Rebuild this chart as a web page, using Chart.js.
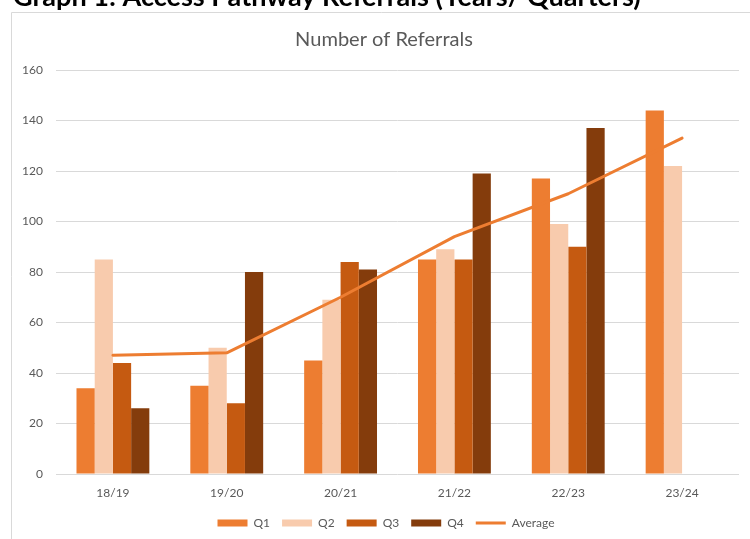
<!DOCTYPE html>
<html>
<head>
<meta charset="utf-8">
<script src="https://cdn.jsdelivr.net/npm/chart.js@4.4.1/dist/chart.umd.min.js"></script>
<style>
  html, body { margin: 0; padding: 0; background: #fff; overflow: hidden; }
  #wrap { position: relative; width: 750px; height: 539px; }
  canvas { display: block; }
</style>
</head>
<body>
<div id="wrap"><canvas id="c" width="750" height="539"></canvas></div>
<script>
// ---- data ----
const categories = ['18/19', '19/20', '20/21', '21/22', '22/23', '23/24'];
const q1 = [34, 35, 45, 85, 117, 144];
const q2 = [85, 50, 69, 89, 99, 122];
const q3 = [44, 28, 84, 85, 90, null];
const q4 = [26, 80, 81, 119, 137, null];
const average = [47, 48, 70, 94, 111, 133];
const yTicks = [0, 20, 40, 60, 80, 100, 120, 140, 160];
const pageTitle = 'Graph 1: Access Pathway Referrals (Years/ Quarters)';
const chartTitle = 'Number of Referrals';

const FONT = 'Lato';
const GREY_TEXT = '#595959';
const GRID = '#D9D9D9';

// fit font sizes to reference text widths
const mctx = document.createElement('canvas').getContext('2d');
function fitSize(text, weight, targetW) {
  mctx.font = weight + ' 100px ' + FONT;
  return 100 * targetW / mctx.measureText(text).width;
}
const pageTitleSize = fitSize(pageTitle, '700', 628);
const chartTitleSize = fitSize(chartTitle, '400', 178);

// title vertical placement: baseline ~46, chart area top at 70
const lh = chartTitleSize * 1.2;
const midOffset = chartTitleSize * 0.3225; // baseline -> 'middle'
const titleMid = 46 - midOffset;
const titlePadTop = titleMid - lh / 2;
const titlePadBottom = 70 - titlePadTop - lh;

const framePlugin = {
  id: 'frame',
  afterLayout(chart) {
    // the reference centres title and legend on the framed box, not the canvas
    if (chart.legend) { chart.legend.left += 16.5; chart.legend.right += 16.5; }
    if (chart.titleBlock) { chart.titleBlock.left += 14.5; chart.titleBlock.right += 14.5; }
  },
  beforeDraw(chart) {
    const ctx = chart.ctx;
    ctx.save();
    ctx.strokeStyle = GRID;
    ctx.lineWidth = 1;
    ctx.beginPath();
    ctx.moveTo(760, 12.5);
    ctx.lineTo(11.5, 12.5);
    ctx.lineTo(11.5, 560);
    ctx.stroke();
    ctx.restore();
  },
  afterDraw(chart) {
    const ctx = chart.ctx;
    ctx.save();
    ctx.fillStyle = '#000000';
    ctx.font = '700 ' + pageTitleSize + 'px ' + FONT;
    ctx.textBaseline = 'alphabetic';
    ctx.textAlign = 'left';
    ctx.fillText(pageTitle, 13, 6);
    ctx.restore();
  }
};

const c = document.getElementById('c');
new Chart(c, {
  data: {
    labels: categories,
    datasets: [
      { type: 'bar', label: 'Q1', data: q1, backgroundColor: '#ED7D31', order: 1 },
      { type: 'bar', label: 'Q2', data: q2, backgroundColor: '#F8CBAD', order: 1 },
      { type: 'bar', label: 'Q3', data: q3, backgroundColor: '#C55A11', order: 1 },
      { type: 'bar', label: 'Q4', data: q4, backgroundColor: '#843C0C', order: 1 },
      { type: 'line', label: 'Average', data: average, borderColor: '#ED7D31',
        backgroundColor: '#ED7D31', borderWidth: 3, pointRadius: 0, tension: 0,
        borderCapStyle: 'round', borderJoinStyle: 'round', order: 0 }
    ]
  },
  options: {
    responsive: false,
    animation: false,
    devicePixelRatio: 1,
    layout: { padding: { left: 0, right: 11, top: 0, bottom: 0 } },
    datasets: { bar: { categoryPercentage: 0.64, barPercentage: 1.0, borderWidth: 0 } },
    scales: {
      x: {
        grid: { display: false, drawTicks: false },
        border: { display: false },
        ticks: { color: GREY_TEXT, font: { family: FONT, size: 12 }, padding: 12, maxRotation: 0 },
        afterFit(scale) { scale.height = 31; }
      },
      y: {
        min: 0, max: 160,
        afterBuildTicks(scale) { scale.ticks = yTicks.map(v => ({ value: v })); },
        grid: { color: GRID, lineWidth: 1, drawTicks: false },
        border: { display: false },
        ticks: { color: GREY_TEXT, font: { family: FONT, size: 12 }, padding: 13 },
        afterFit(scale) { scale.width = 56; }
      }
    },
    plugins: {
      title: {
        display: true, text: chartTitle, color: GREY_TEXT,
        font: { family: FONT, size: chartTitleSize, weight: '400' },
        padding: { top: titlePadTop, bottom: titlePadBottom }
      },
      legend: {
        position: 'bottom',
        labels: {
          color: GREY_TEXT,
          font: { family: FONT, size: 12 },
          usePointStyle: true,
          pointStyleWidth: 30,
          boxHeight: 7,
          padding: 12,
          sort: (a, b) => a.datasetIndex - b.datasetIndex,
          generateLabels(chart) {
            const items = Chart.defaults.plugins.legend.labels.generateLabels(chart);
            items.forEach(it => {
              const ds = chart.data.datasets[it.datasetIndex];
              if (ds.type === 'line') {
                it.pointStyle = 'line';
                it.lineWidth = 3;
                it.strokeStyle = ds.borderColor;
              } else {
                it.pointStyle = 'rect';
                it.lineWidth = 0;
                it.fillStyle = ds.backgroundColor;
              }
            });
            return items;
          }
        }
      },
      tooltip: { enabled: false }
    }
  },
  plugins: [framePlugin]
});
</script>
</body>
</html>
